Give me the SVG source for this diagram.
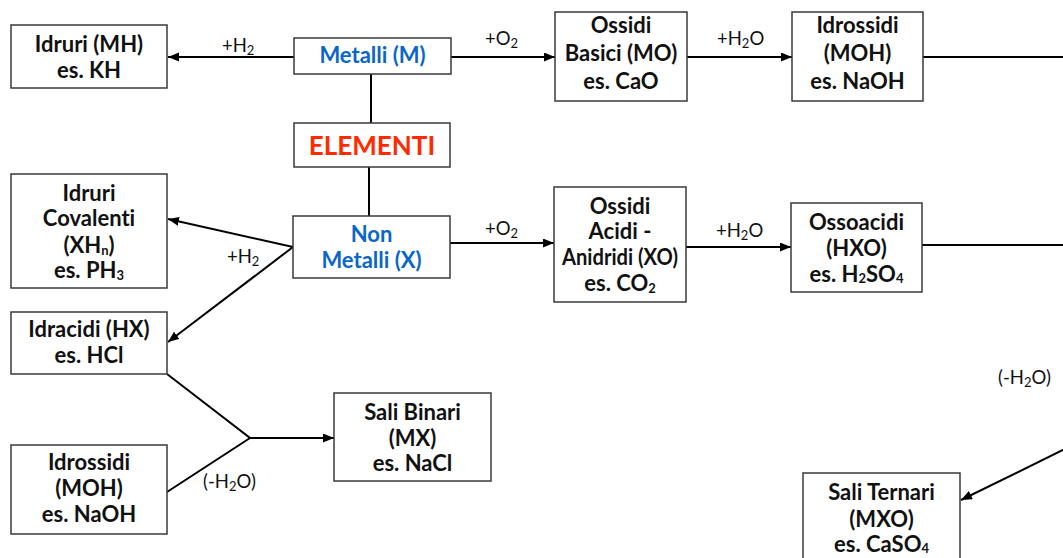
<svg xmlns="http://www.w3.org/2000/svg" width="1063" height="558" viewBox="0 0 1063 558">
<style>
text{font-variant-ligatures:none;font-feature-settings:"liga" 0,"dlig" 0}
.box{fill:#fff;stroke:#3a3a3a;stroke-width:1.5}
.t{font-family:Lato,"Open Sans","DejaVu Sans",sans-serif;font-weight:bold;font-size:22px;fill:#111;text-anchor:middle}
.blue{fill:#0a66c8}
.red{fill:#ff2a00;font-size:26px}
.lbl{font-family:Lato,"Open Sans","DejaVu Sans",sans-serif;font-size:18.5px;fill:#111}
.c{stroke:#000;stroke-width:2;fill:none}
.a{marker-end:url(#ah)}
.sub{font-size:13px}
</style>
<defs>
<marker id="ah" markerUnits="userSpaceOnUse" markerWidth="12" markerHeight="10" refX="11" refY="4.5" orient="auto">
<path d="M0,0 L11,4.5 L0,9 z" fill="#000"/>
</marker>
</defs>
<rect width="1063" height="558" fill="#fff"/>
<g id="connectors">
<line class="c a" x1="294" y1="57" x2="168" y2="57"/>
<line class="c" x1="371" y1="74" x2="371" y2="123"/>
<line class="c" x1="369" y1="167" x2="369" y2="216"/>
<line class="c a" x1="451" y1="57" x2="555" y2="57"/>
<line class="c a" x1="687" y1="57" x2="792" y2="57"/>
<line class="c" x1="923" y1="57" x2="1063" y2="57"/>
<line class="c a" x1="293" y1="247" x2="168" y2="219"/>
<line class="c a" x1="293" y1="247" x2="168" y2="342"/>
<line class="c a" x1="450" y1="243" x2="554" y2="243"/>
<line class="c a" x1="686" y1="247" x2="791" y2="247"/>
<line class="c" x1="922" y1="245" x2="1063" y2="245"/>
<polyline class="c" points="167,374 250,438 167,492"/>
<line class="c a" x1="250" y1="438" x2="334" y2="438"/>
<line class="c a" x1="1066" y1="448.5" x2="961" y2="500"/>
<text class="lbl" x="222" y="52">+H<tspan class="sub" dy="3">2</tspan></text>
<text class="lbl" x="485" y="45">+O<tspan class="sub" dy="3">2</tspan></text>
<text class="lbl" x="717" y="45">+H<tspan class="sub" dy="3">2</tspan><tspan dy="-3">O</tspan></text>
<text class="lbl" x="227" y="263">+H<tspan class="sub" dy="3">2</tspan></text>
<text class="lbl" x="485" y="235">+O<tspan class="sub" dy="3">2</tspan></text>
<text class="lbl" x="716" y="237">+H<tspan class="sub" dy="3">2</tspan><tspan dy="-3">O</tspan></text>
<text class="lbl" x="203" y="488">(-H<tspan class="sub" dy="3">2</tspan><tspan dy="-3">O)</tspan></text>
<text class="lbl" x="998" y="384">(-H<tspan class="sub" dy="3">2</tspan><tspan dy="-3">O)</tspan></text>
</g>
<g id="idruri-mh"><rect class="box" x="11" y="25" width="156" height="63"/>
<text class="t" x="89" y="52">Idruri (MH)</text><text class="t" x="89" y="78">es. KH</text></g>
<g id="metalli"><rect class="box" x="294" y="38" width="157" height="36"/>
<text class="t blue" x="372.5" y="63">Metalli (M)</text></g>
<g id="elementi"><rect class="box" x="294" y="123" width="156" height="44"/>
<text class="t red" x="372" y="155">ELEMENTI</text></g>
<g id="non-metalli"><rect class="box" x="293" y="216" width="157" height="62"/>
<text class="t blue" x="371.5" y="242">Non</text><text class="t blue" x="371.5" y="268">Metalli (X)</text></g>
<g id="idruri-covalenti"><rect class="box" x="11" y="174" width="156" height="114"/>
<text class="t" x="89" y="201">Idruri</text><text class="t" x="89" y="226">Covalenti</text>
<text class="t" x="89" y="253">(XH<tspan class="sub" dy="2">n</tspan><tspan dy="-2">)</tspan></text>
<text class="t" x="89" y="278">es. PH<tspan class="sub" dy="2">3</tspan></text></g>
<g id="idracidi"><rect class="box" x="11" y="312" width="156" height="62"/>
<text class="t" x="89" y="337">Idracidi (HX)</text><text class="t" x="89" y="363">es. HCl</text></g>
<g id="idrossidi-2"><rect class="box" x="11" y="445" width="156" height="89"/>
<text class="t" x="89" y="470">Idrossidi</text><text class="t" x="89" y="496">(MOH)</text><text class="t" x="89" y="522">es. NaOH</text></g>
<g id="sali-binari"><rect class="box" x="334" y="393" width="157" height="88"/>
<text class="t" x="412.5" y="420">Sali Binari</text><text class="t" x="412.5" y="446">(MX)</text><text class="t" x="412.5" y="471">es. NaCl</text></g>
<g id="ossidi-basici"><rect class="box" x="555" y="12" width="132" height="89"/>
<text class="t" x="621" y="33">Ossidi</text><text class="t" x="621" y="61">Basici (MO)</text><text class="t" x="621" y="89">es. CaO</text></g>
<g id="idrossidi-1"><rect class="box" x="792" y="12" width="131" height="89"/>
<text class="t" x="857.5" y="33">Idrossidi</text><text class="t" x="857.5" y="61">(MOH)</text><text class="t" x="857.5" y="89">es. NaOH</text></g>
<g id="ossidi-acidi"><rect class="box" x="554" y="187" width="132" height="115"/>
<text class="t" x="620" y="214">Ossidi</text><text class="t" x="620" y="239">Acidi -</text><text class="t" x="620" y="265" textLength="116" lengthAdjust="spacingAndGlyphs">Anidridi (XO)</text>
<text class="t" x="620" y="291">es. CO<tspan class="sub" dy="2">2</tspan></text></g>
<g id="ossoacidi"><rect class="box" x="791" y="203" width="131" height="89"/>
<text class="t" x="856.5" y="230">Ossoacidi</text><text class="t" x="856.5" y="256">(HXO)</text>
<text class="t" x="856.5" y="282">es. H<tspan class="sub" dy="1">2</tspan><tspan dy="-1">SO</tspan><tspan class="sub" dy="1">4</tspan></text></g>
<g id="sali-ternari"><rect class="box" x="803" y="473" width="157" height="100"/>
<text class="t" x="881.5" y="500">Sali Ternari</text><text class="t" x="881.5" y="527">(MXO)</text>
<text class="t" x="881.5" y="552">es. CaSO<tspan class="sub" dy="1">4</tspan></text></g>
</svg>
